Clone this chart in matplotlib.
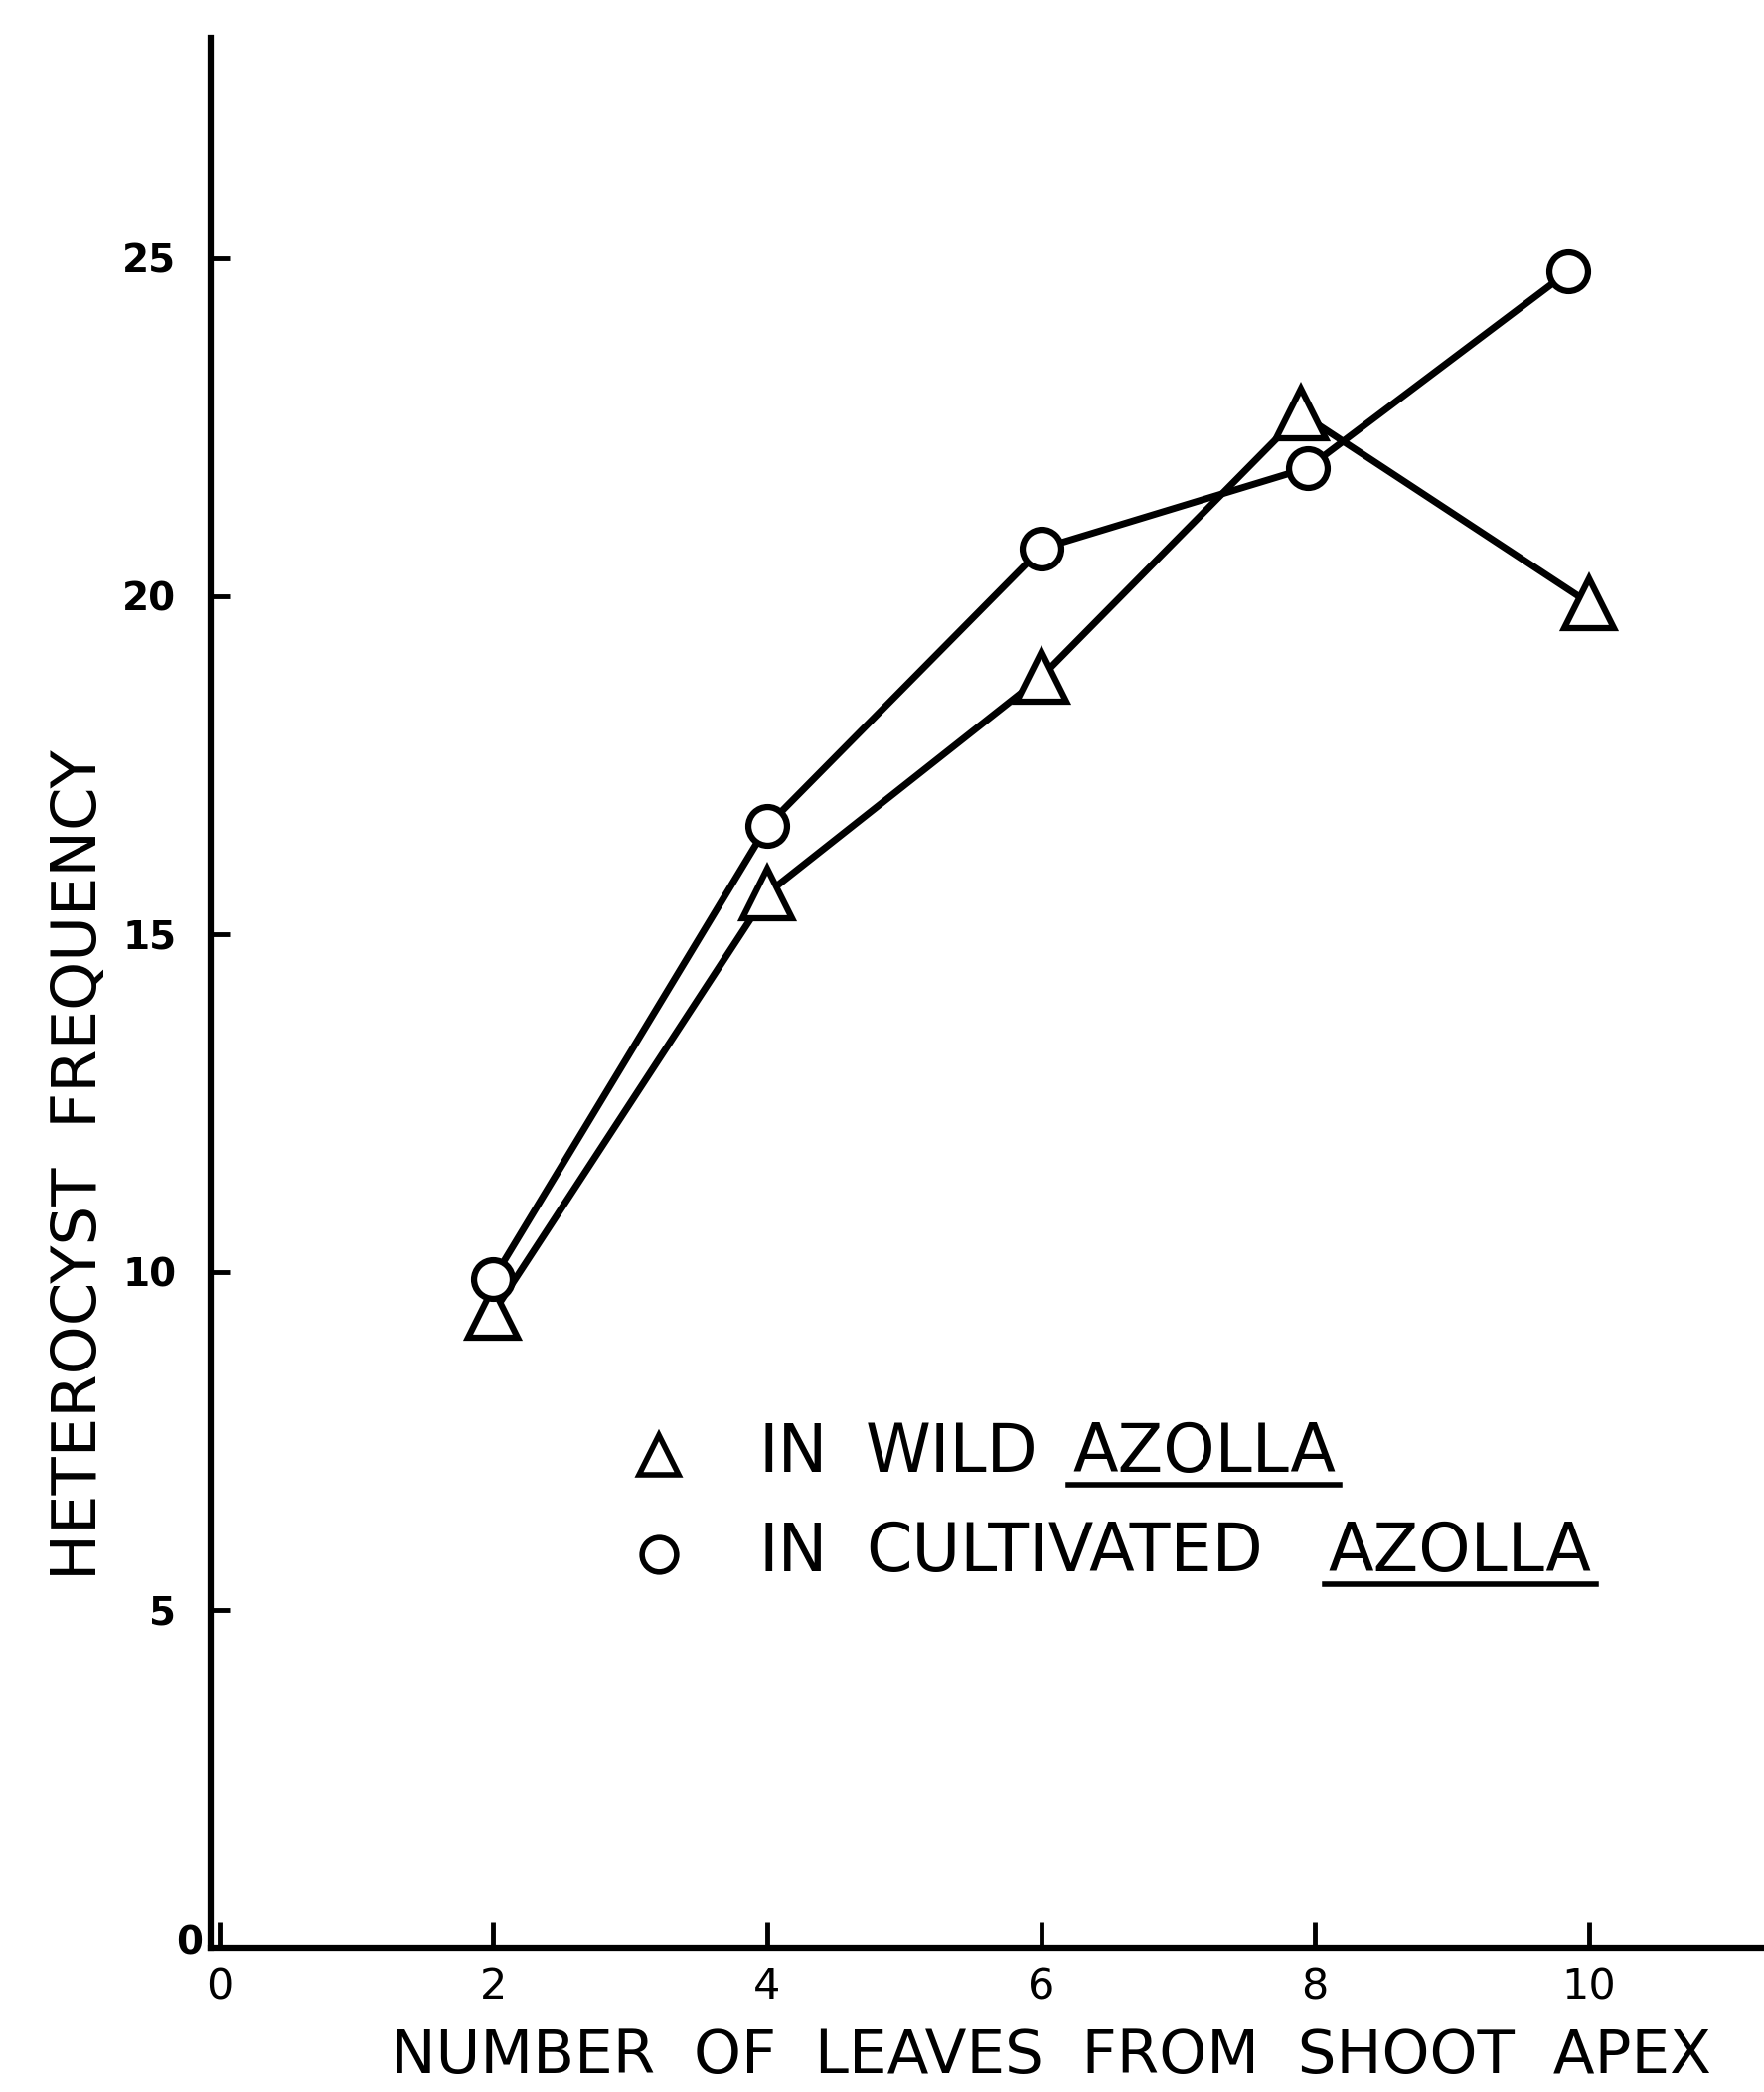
import matplotlib
matplotlib.use("Agg")
import matplotlib.pyplot as plt
from matplotlib.lines import Line2D
from matplotlib.transforms import ScaledTranslation

# leaves counted from shoot apex
leaves_wild = [2, 4, 6, 7.9, 10]
freq_wild = [9.4, 15.6, 18.8, 22.7, 19.9]

leaves_cult = [2, 4, 6, 7.95, 9.85]
freq_cult = [9.9, 16.6, 20.7, 21.9, 24.8]

x_ticks = [0, 2, 4, 6, 8, 10]
y_ticks = [0, 5, 10, 15, 20, 25]

plt.rcParams['font.family'] = ['DejaVu Sans']

fig = plt.figure(figsize=(17.75, 21.05), dpi=100)
ax = fig.add_axes([0.1194, 0.0689, 0.8806, 0.913])

ax.plot(leaves_wild, freq_wild, color='black', lw=5, marker='^', ms=36,
        mfc='white', mec='black', mew=4.5, zorder=3)
ax.plot(leaves_cult, freq_cult, color='black', lw=5, marker='o', ms=28,
        mfc='white', mec='black', mew=4.5, zorder=4)

ax.set_xlim(-0.065, 11.28)
ax.set_ylim(0, 28.26)

for s in ['top', 'right']:
    ax.spines[s].set_visible(False)
for s in ['left', 'bottom']:
    ax.spines[s].set_linewidth(4.5)

ax.set_xticks(x_ticks)
ax.set_yticks(y_ticks)
ax.tick_params(axis='x', direction='in', length=19, width=3.5, pad=13, labelsize=31)
ax.tick_params(axis='y', direction='in', length=14, width=3.5, pad=25, labelsize=28)
for t in ax.get_yticklabels():
    t.set_fontweight('bold')
# the y "0" sits close to the corner in the original
zero = ax.get_yticklabels()[0]
zero.set_transform(zero.get_transform() + ScaledTranslation(0.27, 0.08, fig.dpi_scale_trans))

ax.set_xlabel('NUMBER  OF  LEAVES  FROM  SHOOT  APEX', fontsize=44, va='baseline', ha='center')
ax.xaxis.set_label_coords(0.541, -0.0655)
ax.set_ylabel('HETEROCYST  FREQUENCY', fontsize=45, va='center', ha='center')
ax.yaxis.set_label_coords(-0.0845, 0.41)

# hand-drawn style legend
ax.plot([3.21], [7.3], marker='^', ms=29, mfc='white', mec='black', mew=4, color='black')
ax.plot([3.21], [5.82], marker='o', ms=25, mfc='white', mec='black', mew=4, color='black')
ax.text(3.94, 7.04, 'IN', fontsize=48, va='baseline', ha='left')
ax.text(4.72, 7.04, 'WILD', fontsize=48, va='baseline', ha='left')
ax.text(3.94, 5.57, 'IN', fontsize=48, va='baseline', ha='left')
ax.text(4.72, 5.57, 'CULTIVATED', fontsize=48, va='baseline', ha='left')
az1 = ax.text(6.23, 7.04, 'AZOLLA', fontsize=48, va='baseline', ha='left')
az2 = ax.text(8.10, 5.57, 'AZOLLA', fontsize=48, va='baseline', ha='left')

fig.canvas.draw()
inv = fig.transFigure.inverted()
for t, yb in [(az1, 7.04), (az2, 5.57)]:
    bb = t.get_window_extent()
    base = ax.transData.transform((0, yb))[1]
    (x0, y0), (x1, y1) = inv.transform([(bb.x0 - 4, base - 13), (bb.x1 + 4, base - 13)])
    fig.add_artist(Line2D([x0, x1], [y0, y1], color='black', lw=4))

fig.savefig('out.png', dpi=100, facecolor='white')
